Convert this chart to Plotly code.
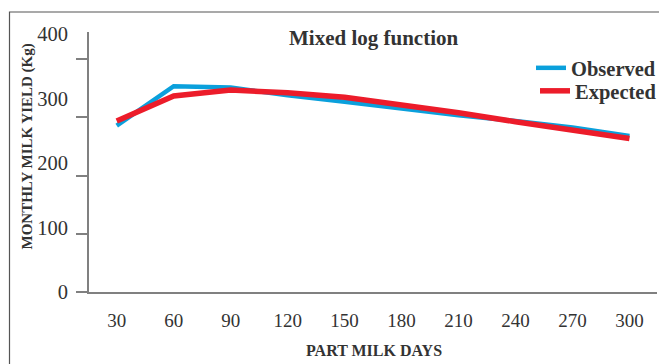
import plotly.graph_objects as go

# ---- data ----
days = [30, 60, 90, 120, 150, 180, 210, 240, 270, 300]
observed = [258, 319, 317, 305, 295, 284, 274, 265, 255, 242]
expected = [265, 304, 313, 309, 302, 291, 278, 264, 250, 238]
y_tick_values = [0, 100, 200, 300, 400]
y_tick_labels = ["0", "100", "200", "300", "400"]
x_tick_values = days
x_tick_labels = [str(d) for d in days]

title_text = "Mixed log function"
x_title = "PART MILK DAYS"
y_title = "MONTHLY MILK YIELD (Kg)"

# tick marks of the reference are evenly spaced but not at the labelled values
y_mark_values = [0, 90.3, 180.6, 270.9, 361.2]

SERIF = "Liberation Serif, Times New Roman, serif"
TXT = "#333333"
AX = "#808080"

W, H = 659, 364
# plot area in window pixels: x 89..657, y 32..292
L, R, T, B = 89, 659 - 657, 32, 364 - 292
pw, ph = W - L - R, H - T - B


def px_x(p):
    return (p - L) / pw


def px_y(p):
    return (H - B - p) / ph


fig = go.Figure()
fig.add_trace(go.Scatter(x=days, y=observed, mode="lines", name="Observed",
                         line=dict(color="#0aa0dc", width=4.5), legend="legend"))
fig.add_trace(go.Scatter(x=days, y=expected, mode="lines", name="Expected",
                         line=dict(color="#ec1c2a", width=5.5), legend="legend2"))

legend_common = dict(font=dict(family=SERIF, size=20.5, color=TXT, weight="bold"),
                     bgcolor="rgba(0,0,0,0)", borderwidth=0,
                     xanchor="left", yanchor="middle", itemwidth=30)

fig.update_layout(
    width=W, height=H,
    margin=dict(l=L, r=R, t=T, b=B, autoexpand=False),
    paper_bgcolor="white", plot_bgcolor="white",
    showlegend=True,
    legend=dict(x=px_x(531), y=px_y(68), **legend_common),
    legend2=dict(x=px_x(535), y=px_y(91), **legend_common),
    xaxis=dict(range=[15.4, 314.5], tickvals=x_tick_values, ticktext=x_tick_labels,
               showline=True, linecolor=AX, linewidth=2, ticks="",
               showgrid=False, zeroline=False, ticklabelstandoff=10,
               tickfont=dict(family=SERIF, size=19, color=TXT)),
    yaxis=dict(range=[0, 403.1], tickvals=y_tick_values, ticktext=y_tick_labels,
               showline=True, linecolor=AX, linewidth=2, ticks="",
               showgrid=False, zeroline=False, ticklabelstandoff=15,
               tickfont=dict(family=SERIF, size=20.5, color=TXT),
               minor=dict(tickvals=y_mark_values, ticks="outside", ticklen=11,
                          tickwidth=1.5, tickcolor=AX, showgrid=False)),
    annotations=[
        dict(text="<b>%s</b>" % title_text, xref="paper", yref="paper",
             x=px_x(373), y=px_y(38), showarrow=False,
             xanchor="center", yanchor="middle",
             font=dict(family=SERIF, size=21, color=TXT)),
        dict(text="<b>%s</b>" % x_title, xref="paper", yref="paper",
             x=px_x(373.5), y=px_y(350), showarrow=False,
             xanchor="center", yanchor="middle",
             font=dict(family=SERIF, size=16, color=TXT)),
        dict(text="<b>%s</b>" % y_title, xref="paper", yref="paper",
             x=px_x(27), y=px_y(146.5), showarrow=False, textangle=-90,
             xanchor="center", yanchor="middle",
             font=dict(family=SERIF, size=15, color=TXT)),
    ],
    shapes=[
        dict(type="rect", xref="paper", yref="paper",
             x0=px_x(9.5), x1=px_x(700), y0=px_y(400), y1=px_y(12),
             line=dict(color="#555555", width=1.2), fillcolor="rgba(0,0,0,0)",
             layer="below"),
    ],
)

# remove the default 8px page margin so the figure fills the window exactly
page_fix = ("document.body.style.margin='0';"
            "document.body.style.overflow='hidden';")
fig.write_html("out.html", post_script=page_fix,
               config={"displayModeBar": False})
